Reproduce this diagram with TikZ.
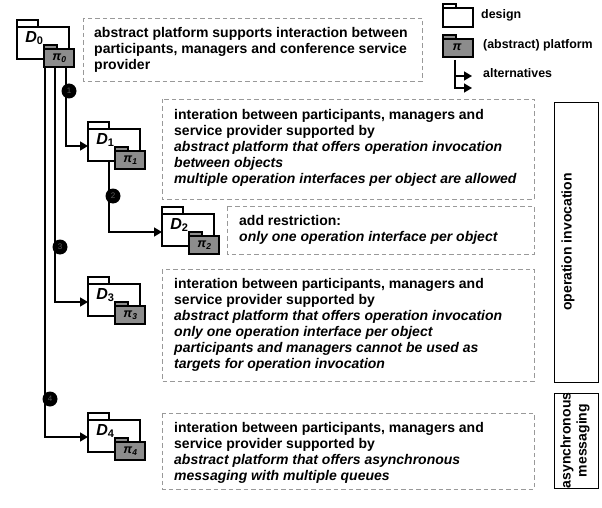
\documentclass[tikz,border=0pt]{standalone}
\usepackage{fontspec}
\setmainfont{Liberation Sans}
\usetikzlibrary{arrows.meta}
\tikzset{
  line/.style={draw=black,line width=1.6pt},
  flow/.style={draw=black,line width=1.5pt,-{Triangle[length=8pt,width=9pt]}},
  note/.style={draw=black!40,dash pattern=on 4.5pt off 3pt,line width=0.9pt},
  bodytext/.style={anchor=north west,align=left,font=\fontsize{14}{16}\selectfont\bfseries,inner sep=0pt},
  dot/.style={circle,fill=black,minimum size=15pt,inner sep=0pt,font=\fontsize{8}{8}\selectfont,text=black!65},
  sidetext/.style={rotate=90,align=center,font=\fontsize{14}{16}\selectfont\bfseries},
  legend/.style={anchor=west,inner sep=0pt,font=\fontsize{12.4}{13}\selectfont\bfseries},
}
% package: x, y (top of tab), D index, pi index, name
\newcommand{\pkg}[5]{%
  \begin{scope}[shift={(#1,#2)}]
    \draw[line,fill=white] (0,0) rectangle (21,7);
    \draw[line,fill=white] (0,7) rectangle (52,39);
    \draw[line,fill=black!45] (27,25) rectangle (40,30);
    \draw[line,fill=black!45] (27,29) rectangle (57,47);
    \node[inner sep=0pt,font=\fontsize{16}{16}\selectfont\bfseries\itshape] (#5d) at (17.5,18) {D\textsubscript{\fontsize{11}{11}\selectfont\upshape #3}};
    \node[inner sep=0pt,font=\fontsize{12.5}{12.5}\selectfont\bfseries\itshape] (#5p) at (42.5,38) {π\textsubscript{\fontsize{8.5}{8.5}\selectfont #4}};
  \end{scope}}
\begin{document}
\begin{tikzpicture}[x=1pt,y=-1pt]
\useasboundingbox (0,0) rectangle (602,508);
\coordinate (c0a) at (45,60);
\coordinate (c0b) at (55,60);
\coordinate (c0c) at (66,60);
\coordinate (t1) at (66,146);
\coordinate (t2) at (109,232);
\coordinate (t3) at (55,302);
\coordinate (t4) at (45,437);
\coordinate (e1) at (88,146);
\coordinate (e2) at (162,232);
\coordinate (e3) at (88,302);
\coordinate (e4) at (88,437);
\coordinate (d1s) at (109,155);
\draw[flow] (c0c) -- (t1) -- (e1);
\draw[flow] (d1s) -- (t2) -- (e2);
\draw[flow] (c0b) -- (t3) -- (e3);
\draw[flow] (c0a) -- (t4) -- (e4);
\pkg{17}{20}{0}{0}{pa}
\pkg{88}{122}{1}{1}{pb}
\pkg{162}{207}{2}{2}{pc}
\pkg{88}{277}{3}{3}{pd}
\pkg{88}{413}{4}{4}{pe}
\node[dot] (n1) at (69,91) {1};
\node[dot] (n2) at (113,196) {2};
\node[dot] (n3) at (60,247) {3};
\node[dot] (n4) at (50,399) {4};
\draw[note] (83,18) rectangle (422,81);
\draw[note] (162,99) rectangle (534,199);
\draw[note] (227,206) rectangle (534,254);
\draw[note] (162,269) rectangle (534,381);
\draw[note] (162,413) rectangle (534,489);
\node[bodytext] (t0) at (94,27) {abstract platform supports interaction between\\participants, managers and conference service\\provider};
\node[bodytext] (ta) at (174,109) {interation between participants, managers and\\service provider supported by\\\itshape abstract platform that offers operation invocation\\\itshape between objects\\\itshape multiple operation interfaces per object are allowed};
\node[bodytext] (tb) at (239,215) {add restriction:\\\itshape only one operation interface per object};
\node[bodytext] (tc) at (174,278) {interation between participants, managers and\\service provider supported by\\\itshape abstract platform that offers operation invocation\\\itshape only one operation interface per object\\\itshape participants and managers cannot be used as\\\itshape targets for operation invocation};
\node[bodytext] (td) at (174,422) {interation between participants, managers and\\service provider supported by\\\itshape abstract platform that offers asynchronous\\\itshape messaging with multiple queues};
\draw[line width=1pt] (554,103) rectangle (598,382);
\draw[line width=1pt] (554,393) rectangle (598,488);
\node[sidetext] (s1) at (568,242) {operation invocation};
\node[sidetext] (s2) at (575,440.5) {asynchronous\\messaging};
\draw[line,fill=white] (443,4) rectangle (456,8);
\draw[line,fill=white] (443,8) rectangle (473,27);
\draw[line,fill=black!45] (443,35) rectangle (456,39);
\draw[line,fill=black!45] (443,39) rectangle (473,57);
\node[inner sep=0pt,font=\fontsize{12.5}{12.5}\selectfont\bfseries\itshape] (lp) at (457,47) {π};
\coordinate (la) at (455,60);
\coordinate (lb) at (455,76);
\coordinate (lc) at (455,88);
\coordinate (le) at (472,76);
\coordinate (lf) at (472,88);
\draw[flow] (la) -- (lc) -- (lf);
\draw[flow] (lb) -- (le);
\node[legend] (l1) at (481,15) {design};
\node[legend] (l2) at (483,45) {(abstract) platform};
\node[legend] (l3) at (483,73) {alternatives};
\end{tikzpicture}
\end{document}
